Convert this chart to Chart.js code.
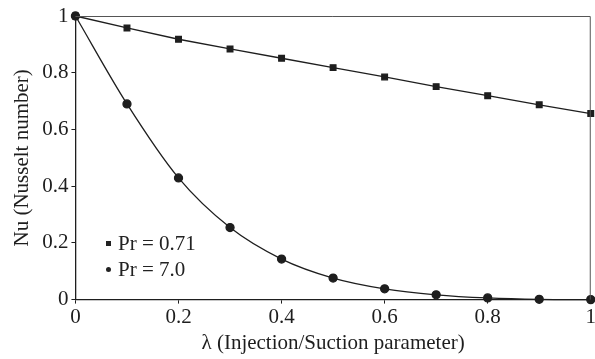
<!DOCTYPE html>
<html>
<head>
<meta charset="utf-8">
<script src="https://cdn.jsdelivr.net/npm/chart.js@4/dist/chart.umd.min.js"></script>
<style>
  body { margin: 0; background: #fff; }
  #wrap { position: relative; width: 595px; height: 359px; overflow: hidden; }
  #legend { position: absolute; left: 106px; top: 230px; font-family: "Liberation Serif", serif; font-size: 21px; color: #222; line-height: 26px; }
  #legend .sq { display: inline-block; width: 5px; height: 5px; background: #222; margin-right: 7px; vertical-align: middle; position: relative; top: -2px; }
  #legend .ci { display: inline-block; width: 5px; height: 5px; background: #222; border-radius: 50%; margin-right: 7px; vertical-align: middle; position: relative; top: -2px; }
</style>
</head>
<body>
<div id="wrap">
  <canvas id="chart" width="597" height="359"></canvas>
  <div id="legend"></div>
</div>
<script>
// Data
var lambdaValues = [0, 0.1, 0.2, 0.3, 0.4, 0.5, 0.6, 0.7, 0.8, 0.9, 1.0];
var nuPr071 = [1, 0.958, 0.918, 0.884, 0.851, 0.818, 0.785, 0.751, 0.719, 0.687, 0.656];
var nuPr70 = [1, 0.69, 0.429, 0.254, 0.143, 0.076, 0.038, 0.017, 0.006, 0.001, 0];
var tickValues = [0, 0.2, 0.4, 0.6, 0.8, 1];

var ink = '#1e1e1e';
var serif = '"Liberation Serif", "Times New Roman", serif';

function toPoints(ys) {
  var pts = [];
  for (var i = 0; i < lambdaValues.length; i++) {
    pts.push({ x: lambdaValues[i], y: ys[i] });
  }
  return pts;
}

function fmt(v) {
  if (v === 0 || v === 1) return String(v);
  return v.toFixed(1);
}

// draws the box round the plot area
var frame = {
  id: 'frame',
  afterDraw: function (chart) {
    var a = chart.chartArea, ctx = chart.ctx;
    ctx.save();
    ctx.strokeStyle = '#555';
    ctx.lineWidth = 1;
    ctx.beginPath();
    ctx.moveTo(a.left, a.top + 0.5);
    ctx.lineTo(a.right - 0.5, a.top + 0.5);
    ctx.lineTo(a.right - 0.5, a.bottom);
    ctx.stroke();
    ctx.restore();
  }
};

var chart = new Chart(document.getElementById('chart'), {
  type: 'line',
  data: {
    datasets: [
      {
        label: 'Pr = 0.71',
        data: toPoints(nuPr071),
        borderColor: ink,
        backgroundColor: ink,
        borderWidth: 1.3,
        pointStyle: 'rect',
        pointRadius: 4,
        tension: 0,
        clip: false
      },
      {
        label: 'Pr = 7.0',
        data: toPoints(nuPr70),
        borderColor: ink,
        backgroundColor: ink,
        borderWidth: 1.3,
        pointStyle: 'circle',
        pointRadius: 4,
        cubicInterpolationMode: 'monotone',
        clip: false
      }
    ]
  },
  options: {
    responsive: false,
    animation: false,
    layout: { padding: { top: 16, right: 0, left: 6, bottom: 3 } },
    plugins: {
      legend: { display: false },
      tooltip: { enabled: false }
    },
    scales: {
      x: {
        type: 'linear',
        min: 0,
        max: 1,
        afterBuildTicks: function (axis) { axis.ticks = tickValues.map(function (v) { return { value: v }; }); },
        grid: { display: true, drawOnChartArea: false, tickLength: 4, color: ink },
        border: { color: ink, width: 1.3 },
        ticks: { color: ink, font: { family: serif, size: 21 }, padding: 1, callback: fmt },
        title: { display: true, text: 'λ (Injection/Suction parameter)', color: ink, font: { family: serif, size: 21 }, padding: { top: 0, bottom: 0 } }
      },
      y: {
        min: 0,
        max: 1,
        afterBuildTicks: function (axis) { axis.ticks = tickValues.map(function (v) { return { value: v }; }); },
        grid: { display: true, drawOnChartArea: false, tickLength: 4, color: ink },
        border: { color: ink, width: 1.3 },
        ticks: { color: ink, font: { family: serif, size: 21 }, padding: 3, callback: fmt },
        title: { display: true, text: 'Nu (Nusselt number)', color: ink, font: { family: serif, size: 21 }, padding: { bottom: 4 } }
      }
    }
  },
  plugins: [frame]
});

// legend inside the plot area, built from the datasets
var legendBox = document.getElementById('legend');
chart.data.datasets.forEach(function (ds) {
  var row = document.createElement('div');
  var mark = document.createElement('span');
  mark.className = ds.pointStyle === 'rect' ? 'sq' : 'ci';
  row.appendChild(mark);
  row.appendChild(document.createTextNode(ds.label));
  legendBox.appendChild(row);
});
</script>
</body>
</html>
